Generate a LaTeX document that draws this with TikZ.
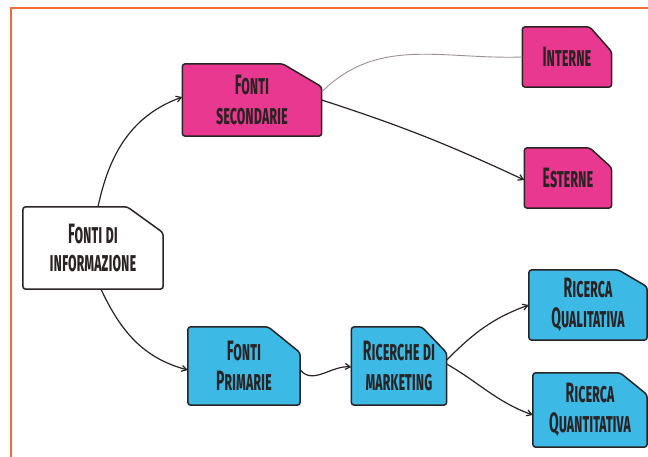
\documentclass[tikz,border=0pt]{standalone}
\usepackage{fontspec}
\newfontfamily\handfont{Fira Sans}[FakeStretch=0.5]
\usetikzlibrary{arrows.meta,backgrounds}
\definecolor{frameorange}{HTML}{EF6B3A}
\definecolor{secpink}{HTML}{E8388F}
\definecolor{priblue}{HTML}{3DB9E6}
\definecolor{inkdark}{HTML}{2A2323}
\definecolor{linkgray}{HTML}{9A9090}
% outline of a card with its top-right corner cut off:
% #1 node name, #2 fill colour, #3 horizontal cut, #4 vertical cut
\newcommand\cardoutline[4]{%
  \filldraw[cardline, fill=#2]
    (#1.south west) -- (#1.north west) -- ([xshift=-#3]#1.north east)
    -- ([yshift=-#4]#1.north east) -- (#1.south east) -- cycle;}
\begin{document}
\begin{tikzpicture}[x=1pt,y=1pt,
  card/.style={rectangle, inner sep=0pt, align=center, text=inkdark,
    font=\handfont\bfseries\scshape\fontsize{28}{30}\selectfont},
  cardline/.style={draw=inkdark, line width=1.5pt, rounded corners=3pt},
  link/.style={draw=inkdark, line width=1.2pt, -{Straight Barb[length=5pt,width=6pt]}},
  faintlink/.style={draw=linkgray, line width=0.9pt}]

\useasboundingbox (0,0) rectangle (648,-457);

% page frame
\draw[frameorange, line width=1.3pt] (11,-457) -- (11,-8) -- (648,-8);

% cards
\node[card, minimum width=140pt, minimum height=82pt,
  font=\handfont\bfseries\scshape\fontsize{28}{27.5}\selectfont]
  (info) at (93,-248) {Fonti di\\informazione};
\node[card, minimum width=139pt, minimum height=72pt]
  (sec) at (252,-100) {Fonti\\secondarie};
\node[card, minimum width=89pt, minimum height=60pt]
  (int) at (567,-57) {Interne};
\node[card, minimum width=87pt, minimum height=60pt]
  (est) at (568,-178) {Esterne};
\node[card, minimum width=112pt, minimum height=78pt]
  (pri) at (244,-366) {Fonti\\Primarie};
\node[card, minimum width=95pt, minimum height=78pt]
  (mkt) at (399,-366) {Ricerche di\\marketing};
\node[card, minimum width=118pt, minimum height=70pt]
  (qual) at (588,-305) {Ricerca\\Qualitativa};
\node[card, minimum width=114pt, minimum height=74pt]
  (quant) at (590,-410) {Ricerca\\Quantitativa};

\begin{scope}[on background layer]
  \cardoutline{info}{white}{36pt}{26pt}
  \cardoutline{sec}{secpink}{39pt}{23pt}
  \cardoutline{int}{secpink}{22pt}{25pt}
  \cardoutline{est}{secpink}{22pt}{20pt}
  \cardoutline{pri}{priblue}{32pt}{26pt}
  \cardoutline{mkt}{priblue}{25pt}{26pt}
  \cardoutline{qual}{priblue}{29pt}{17pt}
  \cardoutline{quant}{priblue}{27pt}{22pt}
\end{scope}

% connectors
\draw[link] ([xshift=5pt]info.north) to[out=78,in=200] ([yshift=3pt]sec.west);
\draw[link] ([xshift=8pt]info.south) to[out=-65,in=165] ([yshift=-4pt]pri.west);
\draw[faintlink] ([yshift=8pt]sec.east) to[out=45,in=182] (int.west);
\draw[link] (sec.east) to[out=-18,in=155] ([yshift=-2pt]est.west);
\draw[link] ([yshift=-4pt]pri.east) to[out=-50,in=175] ([yshift=-1pt]mkt.west);
\draw[link] ([yshift=6pt]mkt.east) to[out=45,in=200] (qual.west);
\draw[link] ([yshift=2pt]mkt.east) to[out=-30,in=160] ([yshift=-5pt]quant.west);
\end{tikzpicture}
\end{document}
